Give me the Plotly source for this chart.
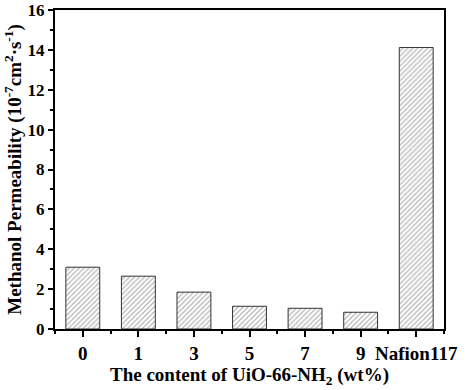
import plotly.graph_objects as go

categories = ["0", "1", "3", "5", "7", "9", "Nafion117"]
permeability = [3.1, 2.65, 1.85, 1.14, 1.04, 0.84, 14.12]
y_ticks = [0, 2, 4, 6, 8, 10, 12, 14, 16]

FONT = "Liberation Serif"

fig = go.Figure()
fig.add_trace(go.Bar(
    x=list(range(len(categories))),
    y=permeability,
    width=0.61,
    marker=dict(
        color="white",
        line=dict(color="#333333", width=1),
        pattern=dict(shape="/", fgcolor="#666666", bgcolor="white",
                     size=3.5, solidity=0.35),
    ),
    showlegend=False,
))

fig.update_layout(
    width=471, height=390,
    margin=dict(l=55, r=27, t=10, b=61),
    paper_bgcolor="white", plot_bgcolor="white",
    font=dict(family=FONT, size=18, color="black", weight="bold"),
    xaxis=dict(
        automargin=False,
        range=[-0.5, 6.5],
        tickmode="array",
        tickvals=list(range(len(categories))),
        ticktext=categories,
        ticks="outside", ticklen=6, tickwidth=1.5, tickcolor="black",
        minor=dict(tickmode="array", tickvals=[i + 0.5 for i in range(-1, 7)],
                   ticks="outside", ticklen=3, tickwidth=1.5, tickcolor="black"),
        showline=True, linecolor="black", linewidth=2, mirror=True,
        showgrid=False, zeroline=False,
        tickfont=dict(family=FONT, size=19, color="black", weight="bold"),
        title=dict(text="The content of UiO-66-NH<sub>2</sub> (wt%)",
                   font=dict(family=FONT, size=19, color="black", weight="bold"),
                   standoff=1),
    ),
    yaxis=dict(
        automargin=False,
        range=[0, 16],
        tickmode="array",
        tickvals=y_ticks,
        ticktext=[str(v) for v in y_ticks],
        ticks="outside", ticklen=5, tickwidth=1.5, tickcolor="black",
        minor=dict(tickmode="array", tickvals=[v + 1 for v in y_ticks[:-1]],
                   ticks="outside", ticklen=3, tickwidth=1.5, tickcolor="black"),
        showline=True, linecolor="black", linewidth=2, mirror=True,
        showgrid=False, zeroline=False,
        tickfont=dict(family=FONT, size=17, color="black", weight="bold"),
        title=dict(text="Methanol Permeability (10<sup>-7</sup>cm<sup>2</sup>·s<sup>-1</sup>)",
                   font=dict(family=FONT, size=19, color="black", weight="bold"),
                   standoff=1),
    ),
)

fig.write_html("out.html",
               config={"displayModeBar": False},
               post_script="document.body.style.margin='0';document.body.style.overflow='hidden';")
